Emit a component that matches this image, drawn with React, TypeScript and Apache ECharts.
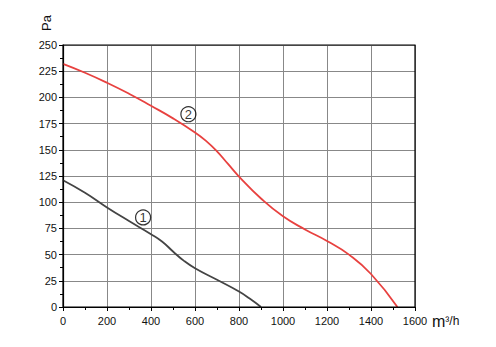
import React, { useEffect, useRef } from "react";
import * as echarts from "echarts";

const xTicks = [0, 200, 400, 600, 800, 1000, 1200, 1400, 1600];
const yTicks = [0, 25, 50, 75, 100, 125, 150, 175, 200, 225, 250];

const curve1: [number, number][] = [
  [0, 121], [100, 109], [200, 95], [300, 82], [400, 69.5], [450, 62.5],
  [500, 53], [550, 44], [600, 37], [700, 26], [800, 14.8], [850, 7.8], [900, 0],
];
const curve2: [number, number][] = [
  [0, 232], [100, 223.5], [200, 214], [300, 203.5], [400, 192], [500, 180],
  [600, 166.5], [650, 158.5], [700, 148.5], [750, 136.5], [800, 124.5],
  [900, 103.5], [1000, 86.5], [1100, 74], [1200, 63], [1300, 50], [1400, 31.5], [1520, 0],
];
const labels: { name: string; value: [number, number] }[] = [
  { name: "1", value: [364, 85.5] },
  { name: "2", value: [570, 184] },
];

export default function App() {
  const ref = useRef<HTMLDivElement>(null);
  useEffect(() => {
    if (!ref.current) return;
    const chart = echarts.init(ref.current, null, { renderer: "svg" });
    const font = "Liberation Sans, Arial, sans-serif";
    chart.setOption({
      animation: false,
      backgroundColor: "#ffffff",
      grid: { left: 63, right: 81, top: 45, bottom: 40 },
      xAxis: {
        type: "value",
        min: xTicks[0],
        max: xTicks[xTicks.length - 1],
        interval: 200,
        axisLine: { show: true, onZero: false, lineStyle: { color: "#000", width: 1.2 } },
        axisTick: { show: true, length: 4, lineStyle: { color: "#000" } },
        minorTick: { show: true, splitNumber: 2, length: 3, lineStyle: { color: "#000" } },
        axisLabel: {
          color: "#111",
          fontSize: 11,
          fontFamily: font,
          margin: 8,
          formatter: (v: number) => String(v),
        },
        splitLine: { show: true, lineStyle: { color: "#888", width: 1 } },
      },
      yAxis: {
        type: "value",
        min: yTicks[0],
        max: yTicks[yTicks.length - 1],
        interval: 25,
        axisLine: { show: true, onZero: false, lineStyle: { color: "#000", width: 1.2 } },
        axisTick: { show: true, length: 4, lineStyle: { color: "#000" } },
        minorTick: { show: true, splitNumber: 2, length: 3, lineStyle: { color: "#000" } },
        axisLabel: {
          color: "#111",
          fontSize: 11,
          fontFamily: font,
          margin: 6,
          formatter: (v: number) => String(v),
        },
        splitLine: { show: true, lineStyle: { color: "#888", width: 1 } },
      },
      graphic: [
        {
          type: "rect",
          shape: { x: 63, y: 45, width: 352, height: 262 },
          style: { fill: "none", stroke: "#000", lineWidth: 1.2 },
          z: 10,
          silent: true,
        },
        {
          type: "text",
          x: 46,
          y: 23,
          rotation: Math.PI / 2,
          style: {
            text: "Pa",
            fontSize: 13,
            fontFamily: font,
            fill: "#111",
            align: "center",
            verticalAlign: "middle",
          },
        },
        {
          type: "text",
          x: 432,
          y: 321,
          style: {
            text: "{a|m}{b|³/h}",
            rich: {
              a: { fontSize: 16, fontFamily: font, fill: "#111" },
              b: { fontSize: 12, fontFamily: font, fill: "#111" },
            },
            fill: "#111",
            align: "left",
            verticalAlign: "middle",
          },
        },
      ],
      series: [
        {
          type: "line",
          data: curve1,
          smooth: 0.5,
          showSymbol: false,
          lineStyle: { color: "#444444", width: 1.8 },
          z: 5,
        },
        {
          type: "line",
          data: curve2,
          smooth: 0.5,
          showSymbol: false,
          lineStyle: { color: "#e8413f", width: 1.8 },
          z: 5,
        },
        {
          type: "scatter",
          data: labels,
          symbol: "circle",
          symbolSize: 15,
          itemStyle: { color: "rgba(255,255,255,0)", borderColor: "#000", borderWidth: 1.2 },
          label: {
            show: true,
            position: "inside",
            formatter: (p: any) => p.name,
            fontSize: 13,
            fontFamily: font,
            color: "#000",
            textBorderColor: "transparent",
            textBorderWidth: 0,
          },
          z: 6,
        },
      ],
    });
    return () => chart.dispose();
  }, []);
  return (
    <div
      ref={ref}
      style={{ width: 496, height: 347, position: "fixed", left: 0, top: 0 }}
    />
  );
}
